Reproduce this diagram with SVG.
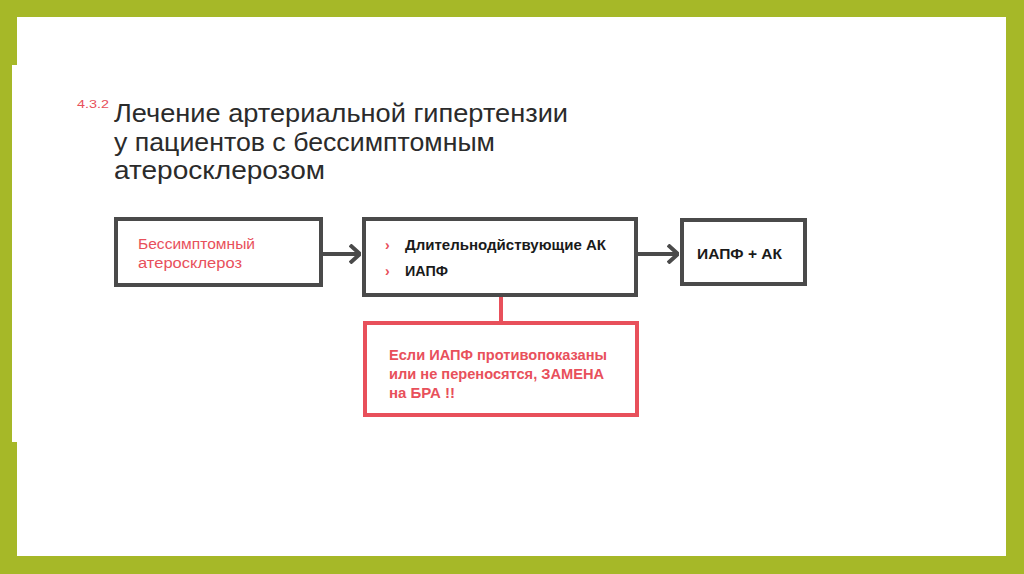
<svg xmlns="http://www.w3.org/2000/svg" width="1024" height="574" viewBox="0 0 1024 574">
<style>
.box{fill:#fff;stroke:#4a4a4a;stroke-width:4}
.rbox{fill:#fff;stroke:#e8505b;stroke-width:4}
.conn{stroke:#4a4a4a;stroke-width:4;fill:none}
.title{font-family:"Liberation Sans",Arial,sans-serif;font-size:26px;fill:#2b2b2b}
.red{font-family:"Liberation Sans",Arial,sans-serif;font-size:14px;fill:#e8505b}
.blk{font-family:"Liberation Sans",Arial,sans-serif;font-size:14px;font-weight:bold;fill:#1a1a1a}
</style>
<defs>
<marker id="chev" viewBox="0 0 12 20" refX="11" refY="10" markerWidth="12" markerHeight="20" markerUnits="userSpaceOnUse" orient="auto">
<path d="M1,1 L11,10 L1,19" fill="none" stroke="#4a4a4a" stroke-width="4"/>
</marker>
</defs>
<rect x="0" y="0" width="1024" height="574" fill="#a6b828"/>
<rect x="17" y="17" width="989" height="539" fill="#fff"/>
<rect x="12" y="65" width="10" height="377" fill="#fff"/>
<g id="title">
<text x="77" y="108" font-family="Liberation Sans,Arial,sans-serif" font-size="10" fill="#e8505b" textLength="32" lengthAdjust="spacingAndGlyphs">4.3.2</text>
<text class="title" x="114" y="122" textLength="454" lengthAdjust="spacingAndGlyphs">Лечение артериальной гипертензии</text>
<text class="title" x="114" y="151" textLength="381" lengthAdjust="spacingAndGlyphs">у пациентов с бессимптомным</text>
<text class="title" x="114" y="179" textLength="211" lengthAdjust="spacingAndGlyphs">атеросклерозом</text>
</g>
<g id="connectors">
<line class="conn" x1="323" y1="254" x2="360" y2="254" marker-end="url(#chev)"/>
<line class="conn" x1="638" y1="254" x2="678" y2="254" marker-end="url(#chev)"/>
<line x1="501" y1="297" x2="501" y2="322" stroke="#e8505b" stroke-width="4"/>
</g>
<g id="node1">
<rect class="box" x="116" y="219" width="205" height="66"/>
<text class="red" x="138" y="249" textLength="117" lengthAdjust="spacingAndGlyphs">Бессимптомный</text>
<text class="red" x="138" y="268" textLength="104" lengthAdjust="spacingAndGlyphs">атеросклероз</text>
</g>
<g id="node2">
<rect class="box" x="364" y="219" width="272" height="76"/>
<text class="red" x="385" y="250" font-size="16" font-weight="bold">›</text>
<text class="blk" x="405" y="250" textLength="201" lengthAdjust="spacingAndGlyphs">Длительнодйствующие АК</text>
<text class="red" x="385" y="276" font-size="16" font-weight="bold">›</text>
<text class="blk" x="405" y="276" textLength="43" lengthAdjust="spacingAndGlyphs">ИАПФ</text>
</g>
<g id="node3">
<rect class="box" x="682" y="220" width="123" height="64"/>
<text class="blk" x="697" y="259" textLength="85" lengthAdjust="spacingAndGlyphs">ИАПФ + АК</text>
</g>
<g id="node4">
<rect class="rbox" x="365" y="323" width="272" height="92"/>
<text class="red" x="389" y="360" font-weight="bold" textLength="218" lengthAdjust="spacingAndGlyphs">Если ИАПФ противопоказаны</text>
<text class="red" x="389" y="379" font-weight="bold" textLength="215" lengthAdjust="spacingAndGlyphs">или не переносятся, ЗАМЕНА</text>
<text class="red" x="389" y="398" font-weight="bold" textLength="66" lengthAdjust="spacingAndGlyphs">на БРА !!</text>
</g>
</svg>
